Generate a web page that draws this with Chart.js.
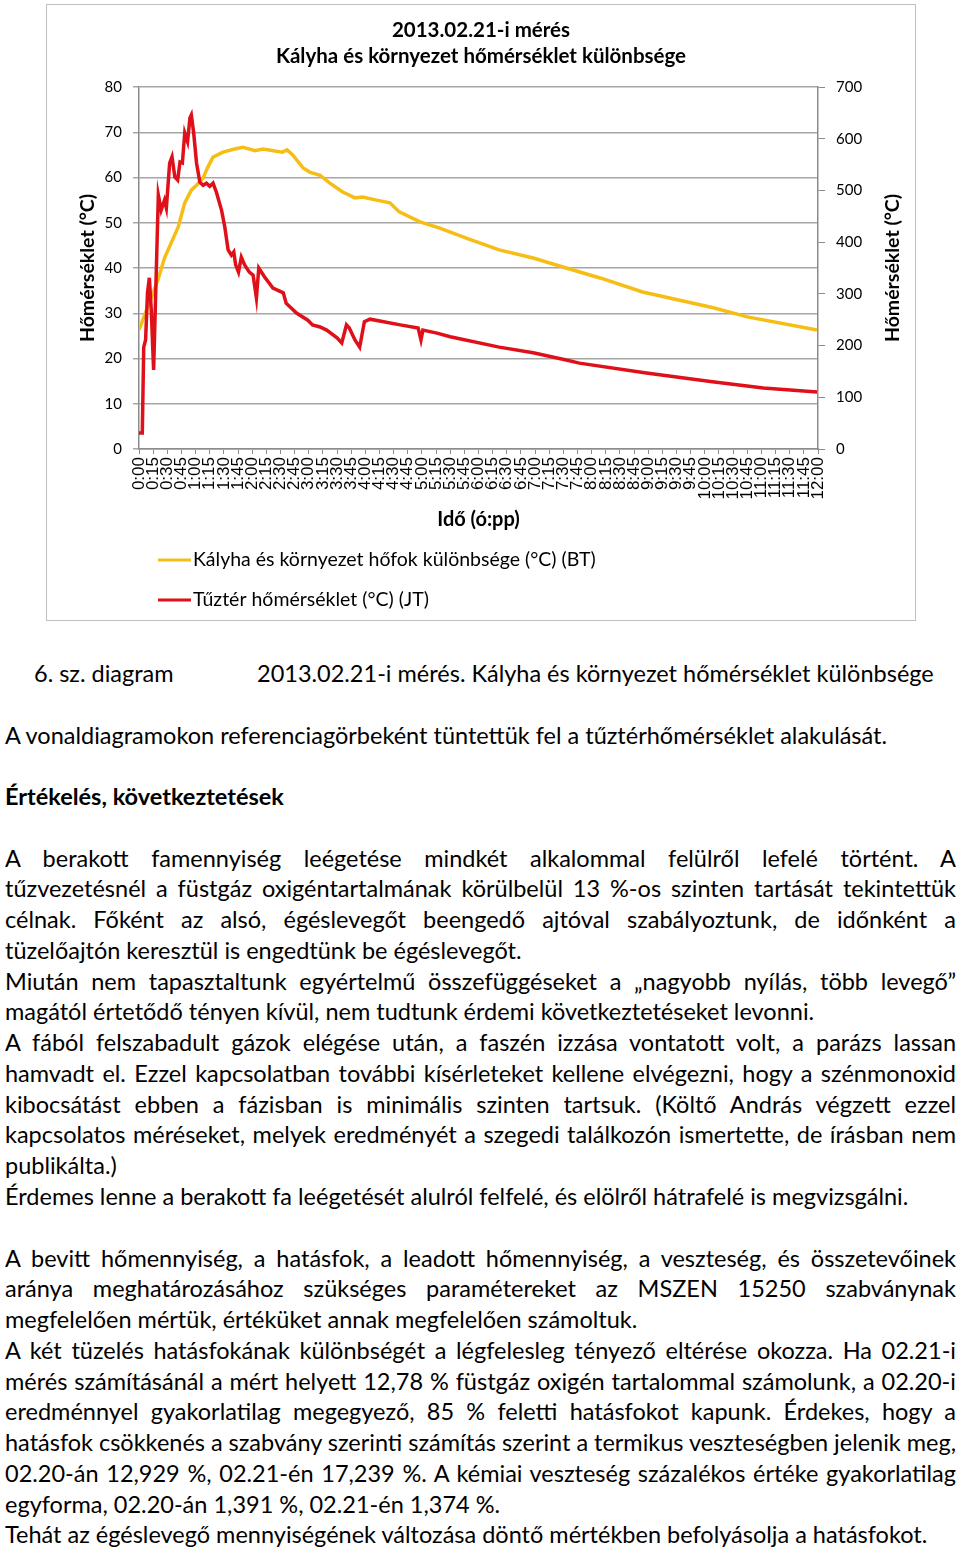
<!DOCTYPE html>
<html lang="hu">
<head>
<meta charset="utf-8">
<script src="https://cdn.jsdelivr.net/npm/chart.js@4.4.1/dist/chart.umd.min.js"></script>
<style>
  body { margin: 0; background: #fff; font-family: Lato, "Open Sans", sans-serif; color: #000; }
  #chartBox { position: absolute; left: 46px; top: 4px; width: 868px; height: 615px; border: 1px solid #bfbfbf; }
  #szoveg { position: absolute; left: 5px; top: 658px; width: 951px; font-size: 23.5px; }
  #szoveg div { height: 30.77px; line-height: 30.77px; white-space: nowrap; position: relative; }
  #szoveg div.j { white-space: normal; overflow: hidden; text-align: justify; text-align-last: justify; word-spacing: -3px; }
  #szoveg b { font-weight: bold; }
</style>
</head>
<body>
<div id="chartBox"><canvas id="homersekletChart"></canvas></div>

<div id="szoveg">
  <div><span style="position:absolute;left:29px">6. sz. diagram</span><span style="position:absolute;left:252px">2013.02.21-i mérés. Kályha és környezet hőmérséklet különbsége</span></div>
  <div></div>
  <div>A vonaldiagramokon referenciagörbeként tüntettük fel a tűztérhőmérséklet alakulását.</div>
  <div></div>
  <div><b>Értékelés, következtetések</b></div>
  <div></div>
  <div class="j">A berakott famennyiség leégetése mindkét alkalommal felülről lefelé történt. A</div>
  <div class="j">tűzvezetésnél a füstgáz oxigéntartalmának körülbelül 13 %-os szinten tartását tekintettük</div>
  <div class="j">célnak. Főként az alsó, égéslevegőt beengedő ajtóval szabályoztunk, de időnként a</div>
  <div>tüzelőajtón keresztül is engedtünk be égéslevegőt.</div>
  <div class="j">Miután nem tapasztaltunk egyértelmű összefüggéseket a „nagyobb nyílás, több levegő”</div>
  <div>magától értetődő tényen kívül, nem tudtunk érdemi következtetéseket levonni.</div>
  <div class="j">A fából felszabadult gázok elégése után, a faszén izzása vontatott volt, a parázs lassan</div>
  <div class="j">hamvadt el. Ezzel kapcsolatban további kísérleteket kellene elvégezni, hogy a szénmonoxid</div>
  <div class="j">kibocsátást ebben a fázisban is minimális szinten tartsuk. (Költő András végzett ezzel</div>
  <div class="j">kapcsolatos méréseket, melyek eredményét a szegedi találkozón ismertette, de írásban nem</div>
  <div>publikálta.)</div>
  <div>Érdemes lenne a berakott fa leégetését alulról felfelé, és elölről hátrafelé is megvizsgálni.</div>
  <div></div>
  <div class="j">A bevitt hőmennyiség, a hatásfok, a leadott hőmennyiség, a veszteség, és összetevőinek</div>
  <div class="j">aránya meghatározásához szükséges paramétereket az MSZEN 15250 szabványnak</div>
  <div>megfelelően mértük, értéküket annak megfelelően számoltuk.</div>
  <div class="j">A két tüzelés hatásfokának különbségét a légfelesleg tényező eltérése okozza. Ha 02.21-i</div>
  <div class="j">mérés számításánál a mért helyett 12,78 % füstgáz oxigén tartalommal számolunk, a 02.20-i</div>
  <div class="j">eredménnyel gyakorlatilag megegyező, 85 % feletti hatásfokot kapunk. Érdekes, hogy a</div>
  <div class="j">hatásfok csökkenés a szabvány szerinti számítás szerint a termikus veszteségben jelenik meg,</div>
  <div class="j">02.20-án 12,929 %, 02.21-én 17,239 %. A kémiai veszteség százalékos értéke gyakorlatilag</div>
  <div>egyforma, 02.20-án 1,391 %, 02.21-én 1,374 %.</div>
  <div>Tehát az égéslevegő mennyiségének változása döntő mértékben befolyásolja a hatásfokot.</div>
</div>

<script>
// idő percben (0:00 = 0), a kályha és környezet hőfok különbsége (bal tengely)
var kalyhaIdo = [0, 20, 27, 41.5, 48.5, 55.5, 61, 68, 73, 78.5, 89, 101.5, 110, 123, 131.5, 152, 157, 163, 174,
    181, 192, 202, 216, 229, 237, 252, 266, 276, 298, 319, 347, 382, 418, 453, 489, 534, 609, 645, 719];
var kalyhaKulonbseg = [26.3, 37.3, 42.2, 49, 54.4, 57.2, 58.3, 59.9, 62.3, 64.5, 65.6, 66.3, 66.7, 65.9, 66.3, 65.6, 66.1, 65, 62.1,
    61.2, 60.5, 58.8, 56.8, 55.5, 55.7, 55, 54.4, 52.4, 50.2, 48.8, 46.6, 44, 42.2, 40, 37.8, 34.7, 31.2, 29.2, 26.3];

// tűztér hőmérséklet (jobb tengely)
var tuzterIdo = [0, 3.5, 5, 7, 9, 11, 13, 15.5, 18, 20.5, 23.5, 27, 29, 32.5, 35, 38, 41, 43.5, 46, 48.5,
    51.5, 54, 55.5, 58, 61, 64.5, 68, 71.5, 75, 78.5, 82, 87.5, 91, 94.5, 98, 100.5, 102.5, 105.5, 108.5, 112,
    117, 121, 124.5, 127, 133, 142, 153, 156, 167, 179, 184, 192, 199, 210, 215, 220, 223, 229, 234, 239,
    245, 277, 296, 299, 301, 316, 330, 382, 418, 453, 467, 538, 608, 662, 719];
var tuzterHomerseklet = [31, 31, 197, 211, 302, 331, 269, 153, 321, 491, 462, 481, 466, 553, 565, 526, 520, 555, 553, 611,
    594, 640, 646, 611, 553, 516, 510, 514, 508, 514, 497, 462, 429, 385, 375, 381, 356, 342, 371, 356,
    342, 336, 292, 350, 333, 311, 302, 282, 263, 249, 240, 236, 230, 215, 205, 240, 234, 211, 197, 246,
    251, 240, 234, 211, 230, 224, 217, 197, 186, 172, 166, 147, 130, 118, 110];

var balTengely = { min: 0, max: 80, lepes: 10 };
var jobbTengely = { min: 0, max: 700, lepes: 100 };
var idoTengely = { min: 0, max: 720, lepes: 15 };

function pontok(idok, ertekek) {
    return idok.map(function (t, i) { return { x: t, y: ertekek[i] }; });
}

function idoCimke(perc) {
    var o = Math.floor(perc / 60);
    var p = perc % 60;
    return o + ':' + (p < 10 ? '0' + p : p);
}

var tengelyCimFont = { family: 'Lato', size: 19.5, weight: 'bold' };
var tickFont = { family: 'Lato', size: 15 };

// jelmagyarázat két sorban + a jobb tengely címe (alulról felfelé olvasva)
var alsoJelmagyarazat = {
    id: 'alsoJelmagyarazat',
    afterDraw: function (chart) {
        var ctx = chart.ctx;
        ctx.save();
        ctx.font = '19.5px Lato';
        ctx.textBaseline = 'middle';
        chart.data.datasets.forEach(function (ds, i) {
            var y = 555 + i * 40;
            ctx.strokeStyle = ds.borderColor;
            ctx.lineWidth = 3;
            ctx.beginPath();
            ctx.moveTo(111, y);
            ctx.lineTo(144, y);
            ctx.stroke();
            ctx.fillStyle = '#000';
            ctx.fillText(ds.label, 146, y);
        });

        var area = chart.chartArea;
        ctx.translate(chart.width - 22, (area.top + area.bottom) / 2);
        ctx.rotate(-Math.PI / 2);
        ctx.font = 'bold 19.5px Lato';
        ctx.textAlign = 'center';
        ctx.fillText('Hőmérséklet (°C)', 0, 0);
        ctx.restore();
    }
};

var ctx = document.getElementById('homersekletChart').getContext('2d');
var homersekletChart = new Chart(ctx, {
    type: 'line',
    data: {
        datasets: [{
            label: 'Kályha és környezet hőfok különbsége (°C) (BT)',
            data: pontok(kalyhaIdo, kalyhaKulonbseg),
            borderColor: '#F6BE14',
            yAxisID: 'yBal',
            order: 1
        }, {
            label: 'Tűztér hőmérséklet (°C) (JT)',
            data: pontok(tuzterIdo, tuzterHomerseklet),
            borderColor: '#E0101A',
            yAxisID: 'yJobb',
            order: 0
        }]
    },
    options: {
        responsive: true,
        maintainAspectRatio: false,
        animation: false,
        layout: { padding: { top: 0, left: 0, right: 0, bottom: 81 } },
        elements: {
            line: { borderWidth: 3.5, tension: 0 },
            point: { radius: 0 }
        },
        plugins: {
            legend: { display: false },
            tooltip: { enabled: false },
            title: {
                display: true,
                text: ['2013.02.21-i mérés', 'Kályha és környezet hőmérséklet különbsége'],
                color: '#000',
                font: { family: 'Lato', size: 20.5, weight: 'bold', lineHeight: 26 / 20.5 },
                padding: { top: 12, bottom: 18 }
            }
        },
        scales: {
            x: {
                type: 'linear',
                min: idoTengely.min,
                max: idoTengely.max,
                afterFit: function (s) { s.height = 90; },
                ticks: {
                    stepSize: idoTengely.lepes,
                    autoSkip: false,
                    minRotation: 90,
                    maxRotation: 90,
                    padding: 3,
                    color: '#000',
                    font: { family: 'Liberation Sans', size: 17 },
                    callback: function (v) { return idoCimke(v); }
                },
                grid: { drawOnChartArea: false, tickLength: 5, color: '#8c8c8c' },
                border: { color: '#8c8c8c', width: 1.5 },
                title: { display: true, text: 'Idő (ó:pp)', color: '#000', font: { family: 'Lato', size: 20, weight: 'bold' }, padding: { top: 0, bottom: 7 } }
            },
            yBal: {
                position: 'left',
                min: balTengely.min,
                max: balTengely.max,
                afterFit: function (s) { s.width = 92; },
                ticks: { stepSize: balTengely.lepes, padding: 11, color: '#000', font: tickFont },
                grid: { color: '#a6a6a6', lineWidth: 1.5, tickLength: 6 },
                border: { color: '#8c8c8c', width: 1.5 },
                title: { display: true, text: 'Hőmérséklet (°C)', color: '#000', font: tengelyCimFont, padding: { top: 29, bottom: 0 } }
            },
            yJobb: {
                position: 'right',
                min: jobbTengely.min,
                max: jobbTengely.max,
                afterFit: function (s) { s.width = 97; },
                ticks: { stepSize: jobbTengely.lepes, padding: 11, color: '#000', font: tickFont },
                grid: { drawOnChartArea: false, tickLength: 7, color: '#8c8c8c' },
                border: { color: '#8c8c8c', width: 1.5 }
            }
        }
    },
    plugins: [alsoJelmagyarazat]
});
</script>
</body>
</html>
